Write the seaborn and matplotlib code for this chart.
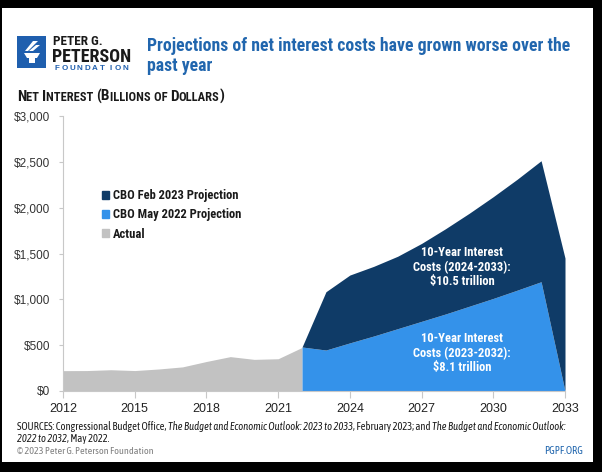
import matplotlib
matplotlib.use("Agg")
import matplotlib.pyplot as plt
from matplotlib import font_manager
from matplotlib.patches import Patch, Rectangle, Polygon
import seaborn as sns

# ── Data (billions of dollars) ────────────────────────────────────────────────
years_actual = [2012, 2013, 2014, 2015, 2016, 2017, 2018, 2019, 2020, 2021, 2022]
actual       = [222, 223, 232, 223, 240, 263, 322, 375, 345, 352, 475]

years_proj = [2022, 2023, 2024, 2025, 2026, 2027, 2028, 2029, 2030, 2031, 2032, 2033]
may_2022   = [480, 447, 525, 600, 680, 760, 840, 925, 1010, 1100, 1192, 0]
feb_2023   = [0, 636, 740, 760, 790, 850, 930, 1015, 1110, 1210, 1320, 1450]

x_ticks  = [2012, 2015, 2018, 2021, 2024, 2027, 2030, 2033]
y_ticks  = [0, 500, 1000, 1500, 2000, 2500, 3000]
y_labels = ["$0", "$500", "$1,000", "$1,500", "$2,000", "$2,500", "$3,000"]

legend_labels = ["CBO Feb 2023 Projection", "CBO May 2022 Projection", "Actual"]

DARK  = "#0f3b67"
LIGHT = "#3492ea"
GRAY  = "#c2c2c2"
BLUE  = "#2166ae"

W, H = 602, 472

sns.set_style("white")
installed = {f.name for f in font_manager.fontManager.ttflist}


def pick(options):
    for name in options:
        if name in installed:
            return name
    return "Liberation Sans"


NARROW = pick(["Roboto Condensed", "Archivo Narrow", "Asap Condensed", "Barlow Semi Condensed",
               "Liberation Sans Narrow"])
FOOT = pick(["Asap Condensed", "Barlow Semi Condensed", "Archivo Narrow", "Roboto Condensed"])
plt.rcParams["font.family"] = [NARROW, "DejaVu Sans"]


def fx(px):
    return px / W


def fy(py):
    return 1 - py / H


fig = plt.figure(figsize=(W / 100, H / 100), dpi=100, facecolor="black")
fig.patches.append(Rectangle((fx(2), fy(462)), 591 / W, 454 / H, transform=fig.transFigure,
                             facecolor="white", edgecolor="none", zorder=-10))
renderer = fig.canvas.get_renderer()


def draw_pieces(x_px, y_px, pieces, **kw):
    # draw text runs one after another on a shared baseline
    x = fx(x_px)
    for s, opts in pieces:
        t = fig.text(x, fy(y_px), s, va="baseline", ha="left", **{**kw, **opts})
        bb = t.get_window_extent(renderer=renderer)
        x = bb.x1 / fig.bbox.width
    return x


# ── Header: logo + title ─────────────────────────────────────────────────────
fig.patches.append(Rectangle((fx(17), fy(68)), 29 / W, 32 / H, transform=fig.transFigure,
                             facecolor="#1f5fae", edgecolor="none"))
shapes = [[(24, 53), (40, 53), (37, 58), (27, 58)],
          [(29, 58), (35, 58), (35, 63), (29, 63)],
          [(25, 51), (33, 41), (38, 41), (28, 51)],
          [(29, 51), (36, 45), (40, 45), (33, 51)]]
for pts in shapes:
    fig.patches.append(Polygon([(fx(a), fy(b)) for a, b in pts], closed=True, transform=fig.transFigure,
                               facecolor="white", edgecolor="none"))

fig.text(fx(53), fy(45), "PETER G.", fontsize=9.5, fontweight="bold", color="#1a1a1a", va="baseline")
fig.text(fx(52), fy(61.5), "PETERSON", fontsize=13, fontweight="bold", color="#1a1a1a", va="baseline")
for i, ch in enumerate("FOUNDATION"):
    fig.text(fx(57 + i * 7.6), fy(70), ch, fontsize=5.8, fontweight="bold", color="#1f5fae",
             va="baseline", ha="center", family="Liberation Sans")

fig.text(fx(147), fy(51), "Projections of net interest costs have grown worse over the",
         fontsize=12.8, fontweight="bold", color=BLUE, va="baseline")
fig.text(fx(147), fy(71), "past year", fontsize=12.8, fontweight="bold", color=BLUE, va="baseline")

# small-caps style axis heading
heading = []
for word in ["Net", "Interest", "(Billions", "of", "Dollars)"]:
    run = ""
    for ch in word + " ":
        big = ch.isupper() or ch in "()"
        if run and big != run_big:
            heading.append((run.upper(), {"fontsize": 11 if run_big else 9}))
            run = ""
        run_big = big
        run += ch
    heading.append((run.upper(), {"fontsize": 11 if run_big else 9}))
draw_pieces(17, 101, heading, fontweight="bold", color="#1a1a1a")

# ── Chart ────────────────────────────────────────────────────────────────────
ax = fig.add_axes([fx(63), fy(391), 502 / W, 275 / H])
ax.set_facecolor("none")
ax.fill_between(years_actual, actual, color=GRAY, lw=0)
ax.stackplot(years_proj, may_2022, feb_2023, colors=[LIGHT, DARK], lw=0)

ax.set_xlim(2012, 2033)
ax.set_ylim(0, 3000)
ax.set_xticks(x_ticks)
ax.set_yticks(y_ticks)
ax.set_yticklabels(y_labels)
sns.despine(ax=ax)
for side in ["left", "bottom"]:
    ax.spines[side].set_color("#c8c8c8")
    ax.spines[side].set_linewidth(0.8)
ax.tick_params(axis="y", length=3, width=0.8, color="#c8c8c8", pad=6, labelsize=8.5,
               labelcolor="#333333", left=True)
ax.tick_params(axis="x", length=5, width=0.8, color="#c8c8c8", pad=4, labelsize=9,
               labelcolor="#222222", bottom=True)
for lab in ax.get_yticklabels() + ax.get_xticklabels():
    lab.set_family("Liberation Sans")

handles = [Patch(color=c) for c in [DARK, LIGHT, GRAY]]
leg = ax.legend(handles, legend_labels, loc="upper left", bbox_to_anchor=(0.055, 0.775),
                frameon=False, handlelength=0.6, handleheight=0.6, handletextpad=0.3,
                labelspacing=0.5, prop={"family": NARROW, "weight": "bold", "size": 9})
for t in leg.get_texts():
    t.set_color("#1a1a1a")

ax.text(2028.7, 1352, "10-Year Interest\nCosts (2024-2033):\n$10.5 trillion", ha="center", va="center",
        color="white", fontsize=9, fontweight="bold", linespacing=1.1)
ax.text(2028.7, 414, "10-Year Interest\nCosts (2023-2032):\n$8.1 trillion", ha="center", va="center",
        color="white", fontsize=9, fontweight="bold", linespacing=1.1)

# ── Footer ───────────────────────────────────────────────────────────────────
src = [("SOURCES: Congressional Budget Office, ", {}),
       ("The Budget and Economic Outlook: 2023 to 2033", {"style": "italic"}),
       (", February 2023; and ", {}),
       ("The Budget and Economic Outlook:", {"style": "italic"})]
draw_pieces(17, 430, src, fontsize=7.6, color="#1a1a1a", family=FOOT)
draw_pieces(17, 442, [("2022 to 2032", {"style": "italic"}), (", May 2022.", {})],
            fontsize=7.6, color="#1a1a1a", family=FOOT)
fig.text(fx(17), fy(454), "\u00a9 2023 Peter G. Peterson Foundation", fontsize=7.3, color="#808080",
         va="baseline", family=FOOT)
fig.text(fx(583), fy(454), "PGPF.ORG", fontsize=7.6, color=BLUE, va="baseline", ha="right", family=FOOT)

fig.savefig("out.png", dpi=100, facecolor="black")
